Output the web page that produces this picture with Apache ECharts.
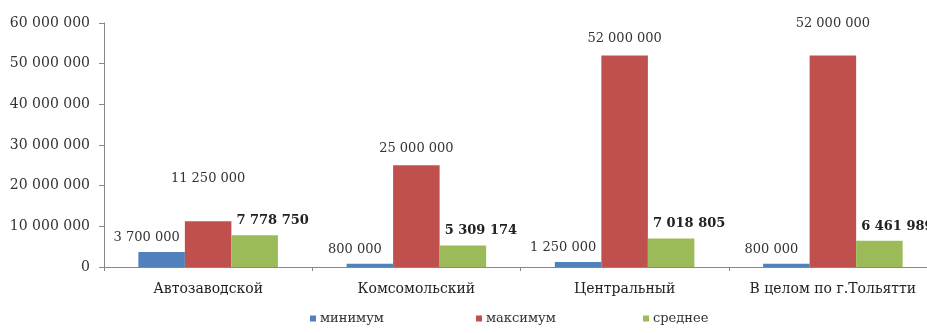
<!DOCTYPE html>
<html>
<head>
<meta charset="utf-8">
<script src="https://cdn.jsdelivr.net/npm/echarts@6/dist/echarts.min.js"></script>
<style>
  html, body { margin: 0; padding: 0; background: #fff; overflow: hidden; }
  /* the plot runs slightly past the right edge in the original */
  #chart { width: 937px; height: 333px; }
</style>
</head>
<body>
<div id="chart"></div>
<script>
// districts
var categories = ['Автозаводской', 'Комсомольский', 'Центральный', 'В целом по г.Тольятти'];
var minValues = [3700000, 800000, 1250000, 800000];
var maxValues = [11250000, 25000000, 52000000, 52000000];
var avgValues = [7778750, 5309174, 7018805, 6461989];
var seriesNames = ['минимум', 'максимум', 'среднее'];

// extra lift for the red labels (as placed in the source chart)
var maxLabelLift = [26, 0, 0, 15];

function fmt(v) {
    return String(v).replace(/\B(?=(\d{3})+(?!\d))/g, ' ');
}

var chart = echarts.init(document.getElementById('chart'));
var serif = 'DejaVu Serif';

var maxData = maxValues.map(function(v, i) {
    return { value: v, label: { offset: [0, -maxLabelLift[i]] } };
});

// one legend per item so each can sit where it does in the original
var legendLeft = [305, 471, 638];
var legends = seriesNames.map(function(n, i) {
    return {
        bottom: 3,
        left: legendLeft[i],
        itemWidth: 6,
        itemHeight: 6,
        itemGap: 0,
        icon: 'rect',
        textStyle: { fontFamily: serif, fontSize: 13, color: '#333', padding: [0, 0, 0, -1] },
        data: [n]
    };
});

var option = {
    animation: false,
    backgroundColor: '#fff',
    grid: { left: 104, right: 0, top: 23, bottom: 66, containLabel: false },
    legend: legends,
    xAxis: {
        type: 'category',
        data: categories,
        axisLine: { lineStyle: { color: '#888' } },
        axisTick: { show: true, length: 4, lineStyle: { color: '#888' } },
        axisLabel: { interval: 0, fontFamily: serif, fontSize: 14, color: '#222', margin: 15 }
    },
    yAxis: {
        type: 'value',
        min: 0,
        max: 60000000,
        interval: 10000000,
        axisLine: { show: true, lineStyle: { color: '#888' } },
        axisTick: { show: true, length: 5, lineStyle: { color: '#888' } },
        splitLine: { show: false },
        axisLabel: {
            fontFamily: serif, fontSize: 14, color: '#333', margin: 14,
            formatter: function(v) { return fmt(v); }
        }
    },
    series: [
        {
            name: seriesNames[0],
            type: 'bar',
            data: minValues,
            barGap: '0%',
            barCategoryGap: '33%',
            itemStyle: { color: '#4F81BD' },
            label: {
                show: true, position: 'top', distance: 8, offset: [-15, 0],
                fontFamily: serif, fontSize: 13, color: '#333',
                formatter: function(p) { return fmt(p.value); }
            }
        },
        {
            name: seriesNames[1],
            type: 'bar',
            data: maxData,
            itemStyle: { color: '#C0504D' },
            label: {
                show: true, position: 'top', distance: 10,
                fontFamily: serif, fontSize: 13, color: '#333',
                formatter: function(p) { return fmt(p.value); }
            }
        },
        {
            name: seriesNames[2],
            type: 'bar',
            data: avgValues,
            itemStyle: { color: '#9BBB59' },
            label: {
                show: true, position: 'top', distance: 8, offset: [18, 0],
                fontFamily: serif, fontSize: 13, fontWeight: 'bold', color: '#222',
                formatter: function(p) { return fmt(p.value); }
            }
        }
    ]
};

chart.setOption(option);
</script>
</body>
</html>
